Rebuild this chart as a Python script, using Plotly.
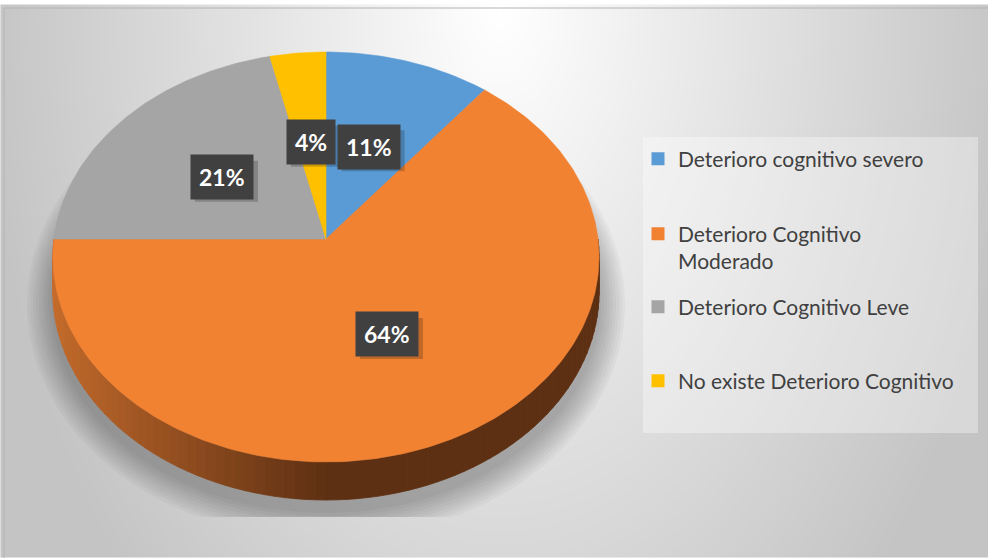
import numpy as np
import plotly.graph_objects as go

# ---------------- data ----------------
categories = ["Deterioro cognitivo severo", "Deterioro Cognitivo Moderado",
              "Deterioro Cognitivo Leve", "No existe Deterioro Cognitivo"]
legend_labels = ["Deterioro cognitivo severo", "Deterioro Cognitivo<br>Moderado",
                 "Deterioro Cognitivo Leve", "No existe Deterioro Cognitivo"]
values = [10.7, 64.3, 21.4, 3.6]          # percent shares
colors = ["#5b9bd5", "#f08232", "#a5a5a5", "#ffc000"]

# ---------------- geometry (3D pie projection) ----------------
W, H = 988, 558
CX, CY = 326, 239          # pie centre on the drawing axis
A, B, K = 272, 203.4, 0.0878   # half-width, half-height, perspective
DEPTH = 34.7               # thickness of the pie
FONT = "Lato"


def proj(theta, r=1.0, drop=0.0, grow=0.0):
    d = 1 + K * r * np.cos(theta)
    x = CX + (A * r + grow) * np.sin(theta) / d
    y = CY - (B * r + grow) * np.cos(theta) / d + drop / d
    return x, y


def lerp_col(c1, c2, t):
    a = [int(c1[i:i + 2], 16) for i in (1, 3, 5)]
    b = [int(c2[i:i + 2], 16) for i in (1, 3, 5)]
    return "rgb(%d,%d,%d)" % tuple(round(a[i] + (b[i] - a[i]) * t) for i in range(3))


fig = go.Figure()

# ---------------- background gradient ----------------
nx, ny = 140, 80
xs = np.linspace(4, W + 2, nx)
ys = np.linspace(8, H + 2, ny)
XX, YY = np.meshgrid(xs, ys)
T = np.sqrt(((XX - 500) / 520) ** 2 + ((YY - 10) / 820) ** 2)
fig.add_trace(go.Heatmap(x=xs, y=ys, z=np.clip(T, 0, 1), zmin=0, zmax=1,
                         colorscale=[[0, "#ffffff"], [1, "#c4c4c4"]],
                         showscale=False, hoverinfo="skip", zsmooth="best"))

# ---------------- soft shadow ----------------
th = np.linspace(0, 2 * np.pi, 241)
n_sh = 9
for i in range(n_sh):
    g = 26 - i * 3
    sx, sy = proj(th, drop=DEPTH + 10, grow=g)
    sy = np.minimum(sy, 517)
    fig.add_trace(go.Scatter(x=sx, y=sy, fill="toself", mode="lines",
                             line=dict(width=0), fillcolor="rgba(0,0,0,0.033)",
                             hoverinfo="skip", showlegend=False))

# ---------------- side of the pie (front half) ----------------
total = sum(values)
starts = np.cumsum([0] + values[:-1]) / total * 2 * np.pi
ends = np.cumsum(values) / total * 2 * np.pi


def slice_index(theta):
    for i in range(len(values)):
        if starts[i] <= theta < ends[i]:
            return i
    return len(values) - 1


step = np.deg2rad(2)
angs = np.arange(np.pi / 2, 3 * np.pi / 2 + 1e-9, step)
for a0, a1 in zip(angs[:-1], angs[1:]):
    mid = (a0 + a1) / 2
    idx = slice_index(mid)
    s = max(0.0, -np.sin(mid))
    if idx == 1:
        col = lerp_col("#5e3013", "#c66c2c", s)
    else:
        col = colors[idx]
    arc = np.linspace(a0, a1, 4)
    tx, ty = proj(arc)
    bx, by = proj(arc[::-1], drop=DEPTH)
    fig.add_trace(go.Scatter(x=np.r_[tx, bx, tx[:1]], y=np.r_[ty, by, ty[:1]],
                             fill="toself", mode="lines", line=dict(width=0.8, color=col),
                             fillcolor=col, hoverinfo="skip", showlegend=False))

# ---------------- top face ----------------
for i, (s0, s1) in enumerate(zip(starts, ends)):
    arc = np.linspace(s0, s1, max(3, int(np.degrees(s1 - s0)) + 2))
    ax, ay = proj(arc)
    fig.add_trace(go.Scatter(x=np.r_[CX, ax, CX], y=np.r_[CY, ay, CY],
                             fill="toself", mode="lines",
                             line=dict(width=0.6, color=colors[i]),
                             fillcolor=colors[i], name=categories[i],
                             hoverinfo="skip", showlegend=False))

# ---------------- data labels ----------------
label_shadows = []
for i, (s0, s1) in enumerate(zip(starts, ends)):
    mid = (s0 + s1) / 2
    lx, ly = proj(mid, r=0.5)
    pct = "%d%%" % round(values[i])
    half_w = (14 * len(pct) + 21) / 2
    label_shadows.append(dict(type="rect", xref="x", yref="y",
                              x0=lx - half_w + 4, x1=lx + half_w + 4,
                              y0=ly - 20.5 + 4, y1=ly + 20.5 + 4,
                              fillcolor="rgba(0,0,0,0.2)", line=dict(width=0),
                              layer="above"))
    fig.add_annotation(x=lx, y=ly, xref="x", yref="y", text="<b>%s</b>" % pct,
                       showarrow=False,
                       font=dict(family=FONT, size=23, color="#ffffff"),
                       bgcolor="#404040", borderpad=8)

# ---------------- legend ----------------
legend_centres = [159, 247.5, 307, 381]
legend_names = ["legend", "legend2", "legend3", "legend4"]
for i in range(len(categories)):
    fig.add_trace(go.Scatter(x=[None], y=[None], mode="markers",
                             marker=dict(symbol="square", size=13, color=colors[i]),
                             name=legend_labels[i], legend=legend_names[i],
                             showlegend=True, hoverinfo="skip"))

layout_legends = {}
for i, ln in enumerate(legend_names):
    layout_legends[ln] = dict(x=638 / W, xanchor="left", y=1 - legend_centres[i] / H,
                              yanchor="middle", bgcolor="rgba(0,0,0,0)",
                              font=dict(family=FONT, size=21, color="#404040"),
                              valign="top", itemclick=False, itemdoubleclick=False)

fig.update_layout(
    width=W, height=H, margin=dict(l=0, r=0, t=0, b=0),
    paper_bgcolor="#ffffff", plot_bgcolor="#ffffff",
    xaxis=dict(range=[0, W], visible=False, fixedrange=True, domain=[0, 1]),
    yaxis=dict(range=[H, 0], visible=False, fixedrange=True, domain=[0, 1]),
    showlegend=True,
    shapes=[
        dict(type="rect", xref="x", yref="y", x0=643, x1=978, y0=137, y1=433,
             fillcolor="rgba(255,255,255,0.35)", line=dict(width=0), layer="above"),
        dict(type="rect", xref="x", yref="y", x0=4, x1=W + 5, y0=8, y1=H + 5,
             fillcolor="rgba(0,0,0,0)", line=dict(width=1, color="#b4b4b4"), layer="above"),
    ] + label_shadows,
    **layout_legends,
)

fig.write_html("out.html")
